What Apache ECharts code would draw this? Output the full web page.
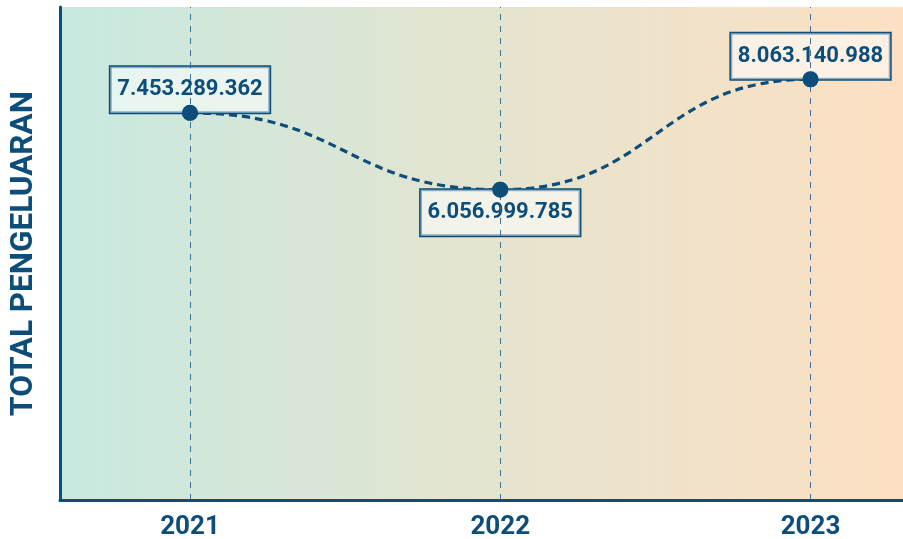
<!DOCTYPE html>
<html><head><meta charset="utf-8">
<script src="https://cdn.jsdelivr.net/npm/echarts@6/dist/echarts.min.js"></script>
<style>html,body{margin:0;padding:0;background:#fff}#c{width:903px;height:539px}</style>
</head><body><div id="c"></div>
<script>
const years = [2021, 2022, 2023];
const totals = [7453289362, 6056999785, 8063140988];
const yAxisTitle = 'TOTAL PENGELUARAN';
const labelPositions = ['top', 'bottom', 'top'];

const C = '#0d4d79';
function fmt(v){ return String(v).replace(/\B(?=(\d{3})+(?!\d))/g, '.'); }
const pts = years.map((y,i)=>[y, totals[i]]);

const chart = echarts.init(document.getElementById('c'), null, {renderer:'canvas'});
chart.setOption({
  animation:false,
  backgroundColor:'#ffffff',
  grid:{left:60, right:0, top:7, bottom:39, show:true, borderWidth:0, containLabel:false, outerBoundsMode:'none',
    backgroundColor:{type:'linear', x:0, y:0, x2:1, y2:0, colorStops:[
      {offset:0, color:'#c7e9e0'},{offset:0.5, color:'#e4e4cf'},{offset:1, color:'#fde0c3'}]}},
  xAxis:{type:'value', min:2020.581, max:2023.298,
    axisLine:{show:true, lineStyle:{color:C, width:3}},
    axisTick:{show:false}, splitLine:{show:false},
    axisLabel:{customValues:years, color:C, fontFamily:'Roboto', fontWeight:'bold', fontSize:26, margin:14,
      formatter: v => String(v)}},
  yAxis:{type:'value', min:0.42e9, max:9.376e9,
    name:yAxisTitle, nameLocation:'middle', nameGap:20,
    nameTextStyle:{color:C, fontFamily:'Roboto', fontWeight:'bold', fontSize:31.5},
    axisLine:{show:true, lineStyle:{color:C, width:3}},
    axisTick:{show:false}, axisLabel:{show:false}, splitLine:{show:false}},
  series:[{
    type:'custom', data:pts, z:2, silent:true,
    encode:{x:0, y:1},
    markLine:{silent:true, symbol:'none', label:{show:false},
      lineStyle:{color:'#2a6690', width:1, type:[6,6], opacity:0.9},
      data: years.map(y=>({xAxis:y}))},
    renderItem:function(params, api){
      const i = params.dataIndex;
      if (i >= years.length - 1) return null;
      const a = api.coord([years[i], totals[i]]);
      const b = api.coord([years[i+1], totals[i+1]]);
      const mx = (a[0] + b[0]) / 2;
      return {type:'bezierCurve',
        shape:{x1:a[0], y1:a[1], x2:b[0], y2:b[1], cpx1:mx, cpy1:a[1], cpx2:mx, cpy2:b[1]},
        style:{stroke:C, lineWidth:3.2, lineDash:[8,5], fill:null}};
    }
  },{
    type:'scatter', z:3,
    data: pts.map((p,i)=>({value:p, label:{position:labelPositions[i]}})),
    symbol:'circle', symbolSize:16,
    itemStyle:{color:C, opacity:1},
    label:{show:true, distance:-8, formatter: p => fmt(p.value[1]),
      color:C, fontFamily:'Roboto', fontWeight:'bold', fontSize:22,
      backgroundColor:'rgba(255,255,255,0.55)', borderColor:C, borderWidth:1.5,
      padding:[12,7,12,7]},
    emphasis:{disabled:true}
  },{
    type:'scatter', data:pts, symbol:'circle', symbolSize:16,
    itemStyle:{color:C, opacity:1}, z:10, silent:true
  }]
});
</script></body></html>
